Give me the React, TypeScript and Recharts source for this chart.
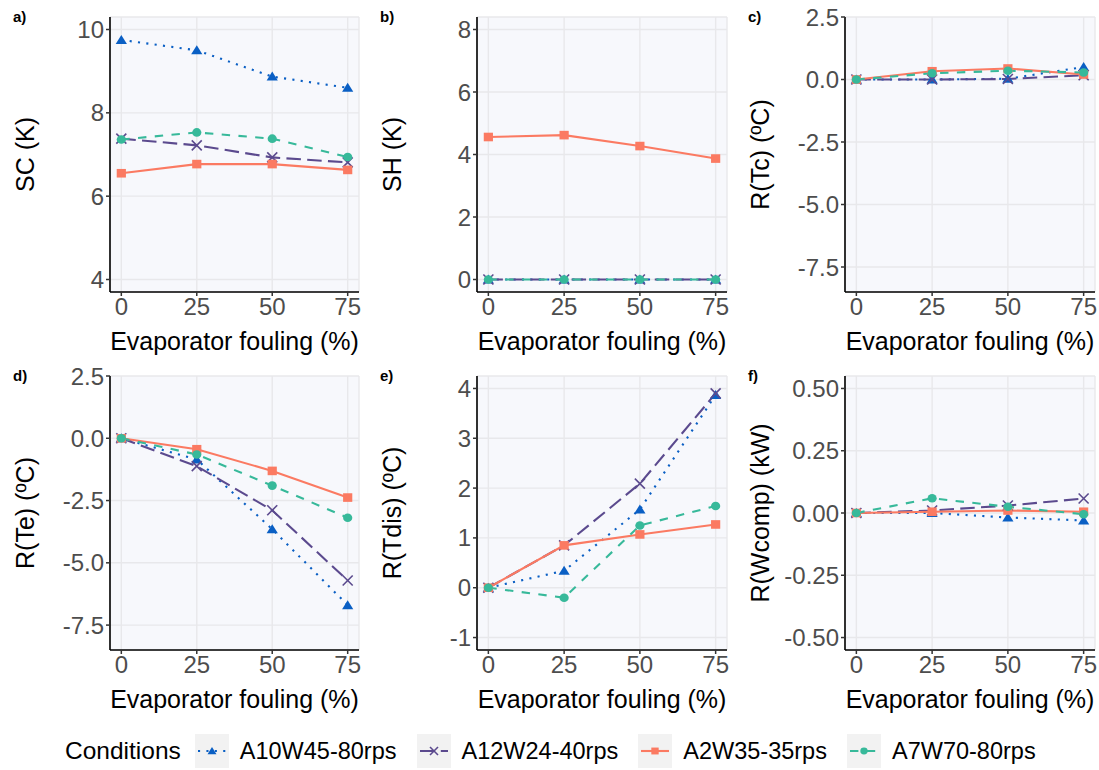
import React from "react";
import { CartesianGrid, Line, LineChart, XAxis, YAxis } from "recharts";

// Evaporator fouling levels (%)
const FOULING = [0, 25, 50, 75];

const CONDITIONS = ["A10W45-80rps", "A12W24-40rps", "A2W35-35rps", "A7W70-80rps"];

// a) subcooling SC (K)
const SC_A10W45 = [9.75, 9.5, 8.87, 8.6];
const SC_A12W24 = [7.38, 7.22, 6.93, 6.81];
const SC_A2W35 = [6.55, 6.77, 6.77, 6.63];
const SC_A7W70 = [7.36, 7.53, 7.38, 6.94];

// b) superheat SH (K)
const SH_A10W45 = [0, 0, 0, 0];
const SH_A12W24 = [0, 0, 0, 0];
const SH_A2W35 = [4.56, 4.62, 4.27, 3.87];
const SH_A7W70 = [0, 0, 0, 0];

// c) residual of condensing temperature
const TC_A10W45 = [0, 0, 0.03, 0.5];
const TC_A12W24 = [0, 0, 0.02, 0.17];
const TC_A2W35 = [0, 0.33, 0.44, 0.2];
const TC_A7W70 = [0, 0.25, 0.35, 0.28];

// d) residual of evaporating temperature
const TE_A10W45 = [0, -0.85, -3.65, -6.7];
const TE_A12W24 = [0, -1.12, -2.89, -5.71];
const TE_A2W35 = [0, -0.44, -1.31, -2.38];
const TE_A7W70 = [0, -0.65, -1.9, -3.19];

// e) residual of discharge temperature
const TDIS_A10W45 = [0, 0.34, 1.57, 3.87];
const TDIS_A12W24 = [0, 0.85, 2.09, 3.9];
const TDIS_A2W35 = [0, 0.85, 1.07, 1.27];
const TDIS_A7W70 = [0, -0.2, 1.25, 1.64];

// f) residual of compressor power
const WCOMP_A10W45 = [0, 0, -0.018, -0.03];
const WCOMP_A12W24 = [0, 0.01, 0.03, 0.058];
const WCOMP_A2W35 = [0, 0.005, 0.01, 0.005];
const WCOMP_A7W70 = [0, 0.059, 0.025, -0.005];

const FONT = '"Liberation Sans", Arial, Helvetica, sans-serif';

type Shape = "triangle" | "cross" | "square" | "circle";

const STYLES: { color: string; dash?: string; shape: Shape }[] = [
  { color: "#0A5FC4", dash: "2.1 6.3", shape: "triangle" },
  { color: "#5B4A8E", dash: "14.5 6.3", shape: "cross" },
  { color: "#FB7A62", dash: undefined, shape: "square" },
  { color: "#37B99A", dash: "8.4 8.4", shape: "circle" },
];

function Marker({ shape, color, x, y, s = 1 }: { shape: Shape; color: string; x: number; y: number; s?: number }) {
  switch (shape) {
    case "triangle":
      return (
        <polygon
          points={`${x},${y - 5 * s} ${x + 5.6 * s},${y + 4 * s} ${x - 5.6 * s},${y + 4 * s}`}
          fill={color}
        />
      );
    case "cross":
      return (
        <g stroke={color} strokeWidth={1.6}>
          <line x1={x - 5 * s} y1={y - 5 * s} x2={x + 5 * s} y2={y + 5 * s} />
          <line x1={x - 5 * s} y1={y + 5 * s} x2={x + 5 * s} y2={y - 5 * s} />
        </g>
      );
    case "square":
      return <rect x={x - 4.6 * s} y={y - 4.3 * s} width={9.2 * s} height={8.6 * s} fill={color} />;
    default:
      return <ellipse cx={x} cy={y} rx={4.6 * s} ry={4.3 * s} fill={color} />;
  }
}

const dotFor = (shape: Shape, color: string) => (p: any) => {
  if (p.cx == null || p.cy == null) return <g key={`d-${p.index}`} />;
  return (
    <g key={`d-${shape}-${p.index}`}>
      <Marker shape={shape} color={color} x={p.cx} y={p.cy} />
    </g>
  );
};

type Panel = {
  tag: string;
  ylabel: string;
  series: number[][];
  domain: [number, number];
  ticks: number[];
  digits: number;
  box: [number, number, number, number]; // plot area: left, top, right, bottom
};

const PANELS: Panel[] = [
  { tag: "a)", ylabel: "SC (K)", series: [SC_A10W45, SC_A12W24, SC_A2W35, SC_A7W70], domain: [3.7, 10.3], ticks: [4, 6, 8, 10], digits: 0, box: [110, 17, 359, 292] },
  { tag: "b)", ylabel: "SH (K)", series: [SH_A10W45, SH_A12W24, SH_A2W35, SH_A7W70], domain: [-0.4, 8.4], ticks: [0, 2, 4, 6, 8], digits: 0, box: [477, 17, 727, 292] },
  { tag: "c)", ylabel: "R(Tc) (ºC)", series: [TC_A10W45, TC_A12W24, TC_A2W35, TC_A7W70], domain: [-8.5, 2.5], ticks: [-7.5, -5, -2.5, 0, 2.5], digits: 1, box: [845, 17, 1095, 292] },
  { tag: "d)", ylabel: "R(Te) (ºC)", series: [TE_A10W45, TE_A12W24, TE_A2W35, TE_A7W70], domain: [-8.5, 2.5], ticks: [-7.5, -5, -2.5, 0, 2.5], digits: 1, box: [110, 376, 359, 650] },
  { tag: "e)", ylabel: "R(Tdis) (ºC)", series: [TDIS_A10W45, TDIS_A12W24, TDIS_A2W35, TDIS_A7W70], domain: [-1.25, 4.25], ticks: [-1, 0, 1, 2, 3, 4], digits: 0, box: [477, 376, 727, 650] },
  { tag: "f)", ylabel: "R(Wcomp) (kW)", series: [WCOMP_A10W45, WCOMP_A12W24, WCOMP_A2W35, WCOMP_A7W70], domain: [-0.55, 0.55], ticks: [-0.5, -0.25, 0, 0.25, 0.5], digits: 2, box: [845, 376, 1095, 650] },
];

const Y_AXIS_W = 110;
const TOP = 17;
const RIGHT = 8;
const X_AXIS_H = 68;

function FacetChart({ panel }: { panel: Panel }) {
  const [l, t, r, b] = panel.box;
  const width = Y_AXIS_W + (r - l) + RIGHT;
  const height = TOP + (b - t) + X_AXIS_H;
  const data = FOULING.map((f, i) => {
    const row: Record<string, number> = { fouling: f };
    CONDITIONS.forEach((c, k) => (row[c] = panel.series[k][i]));
    return row;
  });

  return (
    <div style={{ position: "absolute", left: l - Y_AXIS_W, top: t - TOP, width, height }}>
      <LineChart width={width} height={height} data={data} margin={{ top: TOP, right: RIGHT, bottom: 0, left: 0 }}>
        <CartesianGrid stroke="#E8E8EB" strokeWidth={1.4} fill="#F7F8FC" fillOpacity={1} />
        <XAxis
          type="number"
          dataKey="fouling"
          domain={[-3.75, 78.75]}
          ticks={FOULING}
          interval={0}
          allowDataOverflow
          height={X_AXIS_H}
          tickSize={4}
          tickMargin={2}
          tick={{ fill: "#4D4D4D", fontSize: 24, fontFamily: FONT }}
          tickLine={{ stroke: "#333", strokeWidth: 1.5 }}
          axisLine={{ stroke: "#000", strokeWidth: 1.6 }}
          label={{ value: "Evaporator fouling (%)", position: "insideBottom", offset: 10, fill: "#000", fontSize: 25, fontFamily: FONT }}
        />
        <YAxis
          type="number"
          domain={panel.domain}
          ticks={panel.ticks}
          interval={0}
          allowDataOverflow
          width={Y_AXIS_W}
          tickSize={4}
          tickMargin={2}
          tickFormatter={(v: number) => v.toFixed(panel.digits)}
          tick={{ fill: "#4D4D4D", fontSize: 24, fontFamily: FONT }}
          tickLine={{ stroke: "#333", strokeWidth: 1.5 }}
          axisLine={{ stroke: "#000", strokeWidth: 1.6 }}
          label={{
            value: panel.ylabel,
            angle: -90,
            position: "insideLeft",
            offset: 25,
            fill: "#000",
            fontSize: 25,
            fontFamily: FONT,
            style: { textAnchor: "middle" },
          }}
        />
        {CONDITIONS.map((c, k) => (
          <Line
            key={`line-${c}`}
            dataKey={c}
            stroke={STYLES[k].color}
            strokeWidth={2.1}
            strokeDasharray={STYLES[k].dash}
            dot={false}
            activeDot={false}
            isAnimationActive={false}
          />
        ))}
        {CONDITIONS.map((c, k) => (
          <Line
            key={`pts-${c}`}
            dataKey={c}
            stroke="none"
            dot={dotFor(STYLES[k].shape, STYLES[k].color)}
            activeDot={false}
            isAnimationActive={false}
          />
        ))}
      </LineChart>
      <div
        style={{
          position: "absolute",
          left: Y_AXIS_W - 97,
          top: TOP - 8,
          fontFamily: FONT,
          fontWeight: 700,
          fontSize: 15,
          lineHeight: 1,
        }}
      >
        {panel.tag}
      </div>
    </div>
  );
}

function LegendKey({ k }: { k: number }) {
  const st = STYLES[k];
  return (
    <svg width={34} height={34} style={{ background: "#F2F2F2", display: "block" }}>
      <line x1={3} y1={17} x2={31} y2={17} stroke={st.color} strokeWidth={2.1} strokeDasharray={st.dash} />
      <Marker shape={st.shape} color={st.color} x={17} y={17} s={0.8} />
    </svg>
  );
}

export default function App() {
  return (
    <div
      style={{
        position: "absolute",
        left: 0,
        top: 0,
        width: 1099,
        height: 770,
        overflow: "hidden",
        background: "#fff",
        fontFamily: FONT,
      }}
    >
      {PANELS.map((p) => (
        <FacetChart key={p.tag} panel={p} />
      ))}
      <div style={{ position: "absolute", left: 65, top: 734, height: 34, display: "flex", alignItems: "center" }}>
        <span style={{ fontSize: 24.5, color: "#000", marginRight: 14 }}>Conditions</span>
        {CONDITIONS.map((c, k) => (
          <div key={c} style={{ display: "flex", alignItems: "center", marginRight: 20 }}>
            <LegendKey k={k} />
            <span style={{ fontSize: 23.5, color: "#000", marginLeft: 11 }}>{c}</span>
          </div>
        ))}
      </div>
    </div>
  );
}
